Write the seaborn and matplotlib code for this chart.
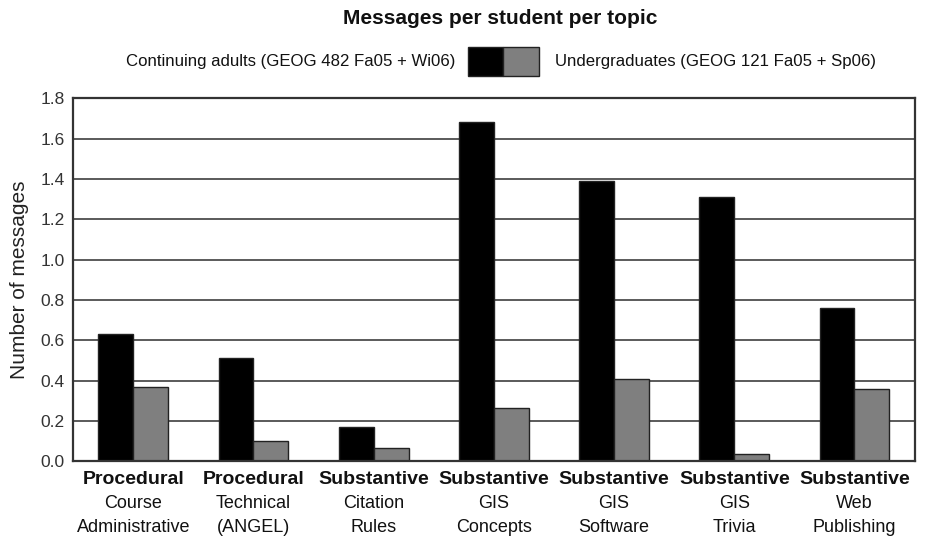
import numpy as np
import pandas as pd
import matplotlib
matplotlib.use("Agg")
import matplotlib.pyplot as plt
import matplotlib.transforms as mtransforms
from matplotlib.patches import Rectangle
import seaborn as sns

# =====================================================
# Data
# =====================================================
topic_kind = ["Procedural", "Procedural", "Substantive", "Substantive",
              "Substantive", "Substantive", "Substantive"]
topic_name = ["Course\nAdministrative", "Technical\n(ANGEL)", "Citation\nRules",
              "GIS\nConcepts", "GIS\nSoftware", "GIS\nTrivia", "Web\nPublishing"]
series_names = ["Continuing adults (GEOG 482 Fa05 + Wi06)",
                "Undergraduates (GEOG 121 Fa05 + Sp06)"]
adults = [0.63, 0.51, 0.17, 1.68, 1.39, 1.31, 0.76]
undergrads = [0.37, 0.10, 0.065, 0.265, 0.41, 0.035, 0.36]
yticks = [0.0, 0.2, 0.4, 0.6, 0.8, 1.0, 1.2, 1.4, 1.6, 1.8]

topics = [f"{k} {n}" for k, n in zip(topic_kind, topic_name)]
df = pd.DataFrame({
    "topic": topics * 2,
    "group": [series_names[0]] * len(topics) + [series_names[1]] * len(topics),
    "value": adults + undergrads,
})
colors = ["#000000", "#7f7f7f"]

# =====================================================
# Plot
# =====================================================
sns.set_theme(style="white")
plt.rcParams["font.family"] = ["Liberation Sans", "DejaVu Sans"]

fig = plt.figure(figsize=(9.38, 5.4), dpi=100)
ax = fig.add_axes([0.078, 0.146, 0.897, 0.672])

ax.set_axisbelow(True)
for t in yticks[1:]:
    ax.axhline(t, color="#5a5a5a", lw=1.4, zorder=0)

sns.barplot(data=df, x="topic", y="value", hue="group",
            palette=colors, width=0.58, gap=0,
            edgecolor="#222222", linewidth=1.0, saturation=1,
            legend=False, ax=ax)

ax.set_ylim(0, 1.8)
ax.set_xlim(-0.5, len(topics) - 0.5)
ax.set_yticks(yticks)
ax.set_yticklabels([f"{t:.1f}" for t in yticks], fontsize=12.5, color="#333333")
ax.tick_params(axis="y", length=0, pad=6)
ax.set_ylabel("Number of messages", fontsize=15, color="#222222", labelpad=8)
ax.set_xlabel("")
ax.set_xticks(range(len(topics)))
ax.set_xticklabels([""] * len(topics))
ax.tick_params(axis="x", length=0)

for s in ax.spines.values():
    s.set_visible(True)
    s.set_color("#333333")
    s.set_linewidth(1.6)

# two-part category labels: bold kind + normal name
trans = mtransforms.blended_transform_factory(ax.transData, ax.transAxes)
for i, (k, n) in enumerate(zip(topic_kind, topic_name)):
    ax.text(i, -0.05, k, transform=trans, ha="center", va="center",
            fontsize=14, fontweight="bold", color="#111111")
    ax.text(i, -0.15, n, transform=trans, ha="center", va="center",
            fontsize=13, color="#111111", linespacing=1.5)

# title and legend at the top
fig.text(0.533, 0.966, "Messages per student per topic", ha="center", va="center",
         fontsize=15, fontweight="bold", color="#111111")
ly = 0.8865
fig.text(0.485, ly, series_names[0], ha="right", va="center",
         fontsize=12.1, color="#111111")
fig.text(0.5917, ly, series_names[1], ha="left", va="center",
         fontsize=12.1, color="#111111")
bw, bh = 0.038, 0.0543
for j, c in enumerate(colors):
    fig.add_artist(Rectangle((0.4986 + j * bw, ly - bh / 2), bw, bh,
                             transform=fig.transFigure, facecolor=c,
                             edgecolor="#222222", lw=1))

fig.savefig("out.png", dpi=100)
